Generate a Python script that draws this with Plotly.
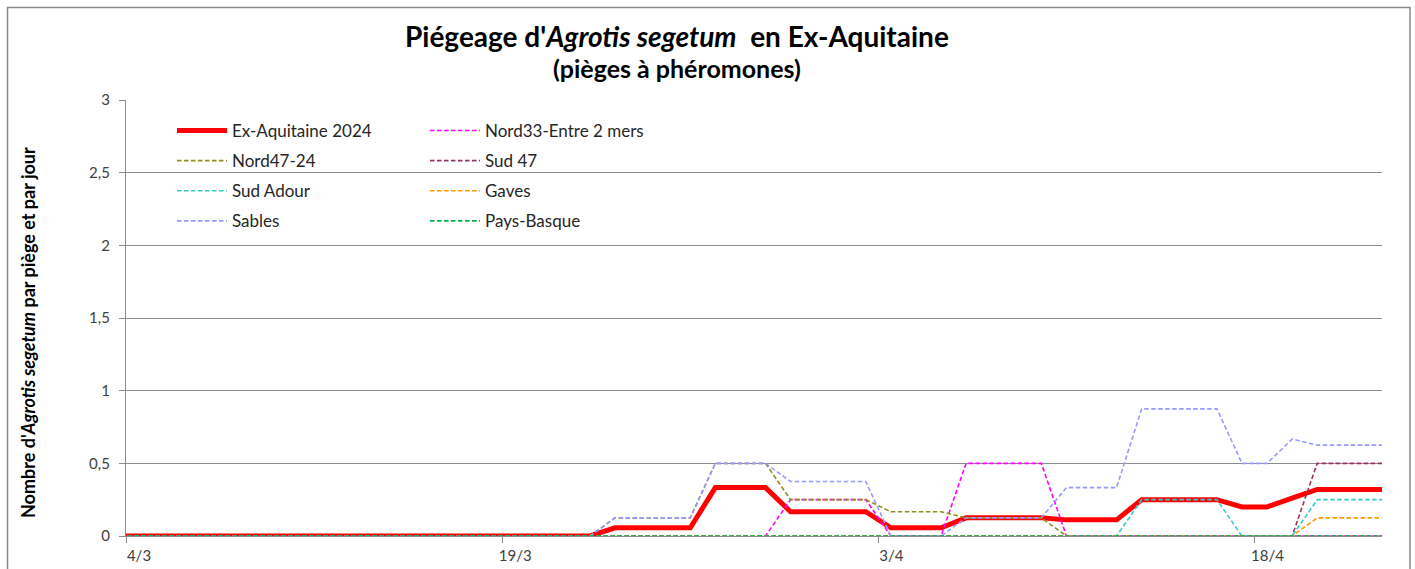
import pandas as pd
import plotly.graph_objects as go

# ---- data (daily values, captures per trap per day) ----
dates = pd.date_range("2024-03-03", "2024-04-23", freq="D")

ex_aquitaine = ([0] * 20 + [0.056] * 4 + [0.333] * 3 + [0.167] * 4 + [0.056] * 3 +
                [0.125] * 4 + [0.111] * 3 + [0.25] * 4 + [0.2] * 2 + [0.26] + [0.32] * 4)
nord33 = ([0] * 20 + [0] * 4 + [0] * 3 + [0.25] * 4 + [0] * 3 +
          [0.5] * 4 + [0] * 3 + [0] * 4 + [0] * 2 + [0] + [0] * 4)
nord47_24 = ([0] * 20 + [0.125] * 4 + [0.5] * 3 + [0.25] * 4 + [0.167] * 3 +
             [0.125] * 4 + [0] * 3 + [0] * 4 + [0] * 2 + [0] + [0] * 4)
sud47 = [0] * 48 + [0.5] * 4
sud_adour = [0] * 41 + [0.25] * 4 + [0] * 3 + [0.25] * 4
gaves = [0] * 48 + [0.125] * 4
sables = ([0] * 20 + [0.125] * 4 + [0.5] * 3 + [0.375] * 4 + [0] * 3 +
          [0.125] * 4 + [0.333] * 3 + [0.875] * 4 + [0.5] * 2 + [0.667] + [0.625] * 4)
pays_basque = [0] * 52

tick_dates = ["2024-03-04", "2024-03-19", "2024-04-03", "2024-04-18"]
tick_labels = ["4/3", "19/3", "3/4", "18/4"]
y_ticks = [0, 0.5, 1, 1.5, 2, 2.5, 3]

series = [
    ("Ex-Aquitaine 2024", ex_aquitaine, "#FF0000", "legend"),
    ("Nord33-Entre 2 mers", nord33, "#FF00FF", "legend2"),
    ("Nord47-24", nord47_24, "#8F8F1F", "legend"),
    ("Sud 47", sud47, "#993366", "legend2"),
    ("Sud Adour", sud_adour, "#33CCCC", "legend"),
    ("Gaves", gaves, "#FF9900", "legend2"),
    ("Sables", sables, "#9999FF", "legend"),
    ("Pays-Basque", pays_basque, "#00B050", "legend2"),
]

FONT = "Lato"
fig = go.Figure()
for name, vals, color, leg in series:
    main = name == "Ex-Aquitaine 2024"
    fig.add_trace(go.Scatter(
        x=dates, y=vals, name=name, mode="lines",
        xperiod=86400000, xperiodalignment="middle",
        line=dict(color=color, width=5 if main else 1.6,
                  dash="solid" if main else "4.5px,2.5px"),
        legend=leg, legendgroup=name, hoverinfo="x+y+name",
    ))

W, H = 1415, 569
L, R, T, B = 126, 33, 100, 33
pw, ph = W - L - R, H - T - B


def px(x):
    return (x - L) / pw


def py(y):
    return (H - B - y) / ph


grid = "#8C8C8C"
leg_common = dict(xanchor="left", yanchor="top", bgcolor="rgba(0,0,0,0)",
                  font=dict(size=17, color="#262626"),
                  itemwidth=50, tracegroupgap=5, traceorder="grouped")
fig.update_layout(
    width=W, height=H, autosize=False,
    margin=dict(l=L, r=R, t=T, b=B, pad=0, autoexpand=False),
    paper_bgcolor="white", plot_bgcolor="white",
    separators=", ",
    font=dict(family=FONT, size=15, color="#404040"),
    showlegend=True,
    legend=dict(x=px(172), y=py(113), **leg_common),
    legend2=dict(x=px(425), y=py(113), **leg_common),
    xaxis=dict(
        type="date", automargin=False,
        range=["2024-03-04", "2024-04-23 02:00"],
        tickvals=tick_dates, ticktext=tick_labels,
        showgrid=False, showline=True, linecolor=grid, linewidth=1.3,
        ticks="outside", ticklen=6, tickcolor=grid, tickwidth=1.3,
        ticklabelshift=13, tickfont=dict(size=15, color="#404040"),
        zeroline=False,
    ),
    yaxis=dict(
        range=[0, 3], tickvals=y_ticks, tickformat=".1~f", automargin=False,
        showgrid=True, gridcolor=grid, gridwidth=1.3,
        showline=True, linecolor=grid, linewidth=1.3,
        ticks="outside", ticklen=6, tickcolor=grid, tickwidth=1.3,
        ticklabelstandoff=6, tickfont=dict(size=15, color="#404040"),
        zeroline=False,
    ),
    shapes=[
        dict(type="rect", xref="paper", yref="paper", layer="between",
             x0=px(160), x1=px(665), y0=py(240), y1=py(112),
             fillcolor="white", line=dict(width=0)),
        dict(type="rect", xref="paper", yref="paper", layer="above",
             x0=px(7.5), x1=px(1410), y0=py(620), y1=py(7.5),
             fillcolor="rgba(0,0,0,0)", line=dict(color="#8A8A8A", width=1.5)),
    ],
    annotations=[
        dict(text="<b>Piégeage d'<i>Agrotis segetum</i>  en Ex-Aquitaine</b>",
             xref="paper", yref="paper", x=px(677), y=py(36),
             xanchor="center", yanchor="middle", showarrow=False,
             font=dict(family=FONT, size=28, color="#000000")),
        dict(text="<b>(pièges à phéromones)</b>",
             xref="paper", yref="paper", x=px(677), y=py(68),
             xanchor="center", yanchor="middle", showarrow=False,
             font=dict(family=FONT, size=25, color="#000000")),
        dict(text="<b>Nombre d'<i>Agrotis segetum</i> par piège et par jour</b>",
             xref="paper", yref="paper", x=px(28), y=py(333),
             xanchor="center", yanchor="middle", showarrow=False, textangle=-90,
             font=dict(family=FONT, size=18, color="#000000")),
    ],
)

fig.write_html(
    "out.html",
    config={"displayModeBar": False, "responsive": False},
    post_script="document.body.style.margin='0px';document.body.style.overflow='hidden';",
)
